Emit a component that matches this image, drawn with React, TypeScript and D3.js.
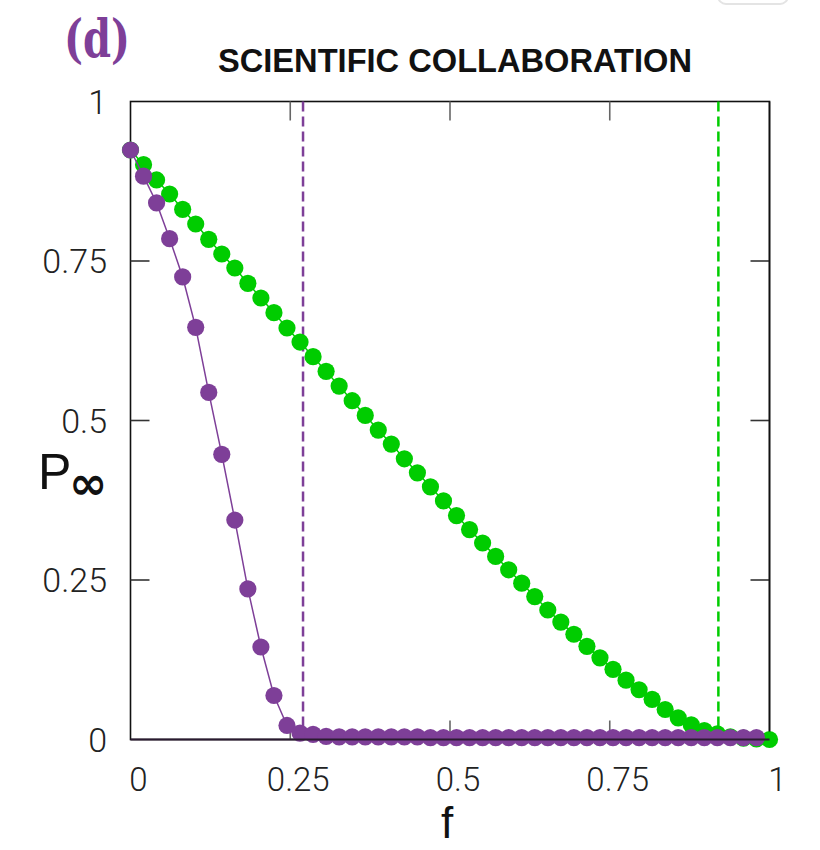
import React from "react";
import * as d3 from "d3";

// f = k/49 grid
const N_STEPS = 49;
const purpleValues = [
  0.924, 0.883, 0.841, 0.785, 0.725, 0.646, 0.544, 0.447, 0.344, 0.236,
  0.145, 0.069, 0.022, 0.010, 0.008, 0.005, 0.004, 0.004, 0.004, 0.004,
  0.004, 0.004, 0.004, 0.003, 0.003, 0.003, 0.003, 0.003, 0.003, 0.003,
  0.003, 0.003, 0.003, 0.003, 0.003, 0.003, 0.003, 0.003, 0.003, 0.003,
  0.003, 0.003, 0.003, 0.003, 0.003, 0.003, 0.003, 0.003, 0.003,
];
const greenValues = [
  0.924, 0.901, 0.877, 0.855, 0.831, 0.808, 0.784, 0.761, 0.739, 0.715,
  0.692, 0.669, 0.645, 0.623, 0.600, 0.577, 0.554, 0.531, 0.508, 0.485,
  0.463, 0.440, 0.418, 0.396, 0.374, 0.351, 0.329, 0.308, 0.287, 0.266,
  0.245, 0.224, 0.203, 0.184, 0.165, 0.146, 0.128, 0.110, 0.093, 0.078,
  0.063, 0.047, 0.034, 0.023, 0.014, 0.009, 0.004, 0.002, 0.001, 0.0,
];
const purpleThreshold = 0.27;
const greenThreshold = 0.92;
const xTicks = [0, 0.25, 0.5, 0.75, 1];
const xTickLabels = ["0", "0.25", "0.5", "0.75", "1"];
const yTicks = [0, 0.25, 0.5, 0.75, 1];
const yTickLabels = ["0", "0.25", "0.5", "0.75", "1"];
const title = "SCIENTIFIC COLLABORATION";
const panelLabel = "(d)";

const PURPLE = "#7e3f98";
const GREEN = "#00cc00";

export default function App() {
  const W = 820, H = 850;
  const x = d3.scaleLinear().domain([0, 1]).range([130.5, 769.5]);
  const y = d3.scaleLinear().domain([0, 1]).range([739.5, 101.5]);
  const purple = purpleValues.map((v, i) => [i / N_STEPS, v] as [number, number]);
  const green = greenValues.map((v, i) => [i / N_STEPS, v] as [number, number]);
  const line = d3.line<[number, number]>().x(d => x(d[0])).y(d => y(d[1]));
  const [x0, x1] = x.range();
  const [y0, y1] = y.range();
  const tickLen = 19;
  const tickFont = "Roboto, 'Liberation Sans', sans-serif";
  const R = 8.6;
  return (
    <svg width={W} height={H} style={{ position: "absolute", left: 0, top: 0, background: "#fff" }}
      fontFamily={tickFont}>
      <rect x={718} y={-14} width={70} height={18} rx={8} fill="none" stroke="#e4e4e4" strokeWidth={2} />
      <text x={64} y={57} fill={PURPLE} fontSize={52} fontWeight="bold"
        fontFamily="'DejaVu Serif', serif" textLength={66} lengthAdjust="spacingAndGlyphs">{panelLabel}</text>
      <text x={218} y={72} fill="#111" fontSize={34} fontWeight="bold"
        fontFamily="'Liberation Sans', sans-serif" textLength={474} lengthAdjust="spacingAndGlyphs">{title}</text>

      {/* frame */}
      <rect x={x0} y={y1} width={x1 - x0} height={y0 - y1} fill="none" stroke="#111" strokeWidth={1.6} />
      {/* ticks */}
      {xTicks.slice(1, -1).map(t => (
        <g key={"xt" + t} stroke="#666" strokeWidth={1.6}>
          <line x1={x(t)} x2={x(t)} y1={y0} y2={y0 - tickLen} />
          <line x1={x(t)} x2={x(t)} y1={y1} y2={y1 + tickLen} />
        </g>
      ))}
      {yTicks.slice(1, -1).map(t => (
        <g key={"yt" + t} stroke="#333" strokeWidth={1.6}>
          <line x1={x0} x2={x0 + tickLen} y1={y(t)} y2={y(t)} />
          <line x1={x1} x2={x1 - tickLen} y1={y(t)} y2={y(t)} />
        </g>
      ))}
      {/* tick labels */}
      {yTicks.map((t, i) => (
        <text key={"yl" + t} x={107} y={y(t)} dy="0.36em" textAnchor="end" fontSize={34}
          fontWeight={300} fill="#222">{yTickLabels[i]}</text>
      ))}
      {xTicks.map((t, i) => (
        <text key={"xl" + t} x={x(t) + 8} y={791} textAnchor="middle" fontSize={33}
          fontWeight={300} fill="#222">{xTickLabels[i]}</text>
      ))}
      {/* axis titles */}
      <text x={38} y={489} fontSize={50} fill="#111" fontFamily="'Liberation Sans', sans-serif">P</text>
      <text x={69} y={499} fontSize={46} fill="#111" fontFamily="'DejaVu Sans', sans-serif" fontWeight="bold">∞</text>
      <text x={447} y={838} fontSize={44} textAnchor="middle" fill="#111" fontFamily="'Liberation Sans', sans-serif">f</text>

      {/* thresholds */}
      <line x1={x(purpleThreshold)} x2={x(purpleThreshold)} y1={y1} y2={y0} stroke={PURPLE}
        strokeWidth={2.5} strokeDasharray="10,5" />
      <line x1={x(greenThreshold)} x2={x(greenThreshold)} y1={y1} y2={y0} stroke={GREEN}
        strokeWidth={2.5} strokeDasharray="10,5" />

      {/* green series */}
      <path d={line(green) || ""} fill="none" stroke={GREEN} strokeWidth={1.5} />
      {green.map((d, i) => (
        <circle key={"g" + i} cx={x(d[0])} cy={y(d[1])} r={R} fill={GREEN} />
      ))}
      {/* purple series */}
      <path d={line(purple) || ""} fill="none" stroke={PURPLE} strokeWidth={1.5} />
      {purple.map((d, i) => (
        <circle key={"p" + i} cx={x(d[0])} cy={y(d[1])} r={R} fill={PURPLE} />
      ))}
      {/* bottom axis over dots */}
      <line x1={x0} x2={x1} y1={y0} y2={y0} stroke="#2a1a30" strokeWidth={2} />
      <line x1={x1} x2={x1} y1={y1} y2={y0 - 8} stroke="#111" strokeWidth={1.6} />
    </svg>
  );
}
